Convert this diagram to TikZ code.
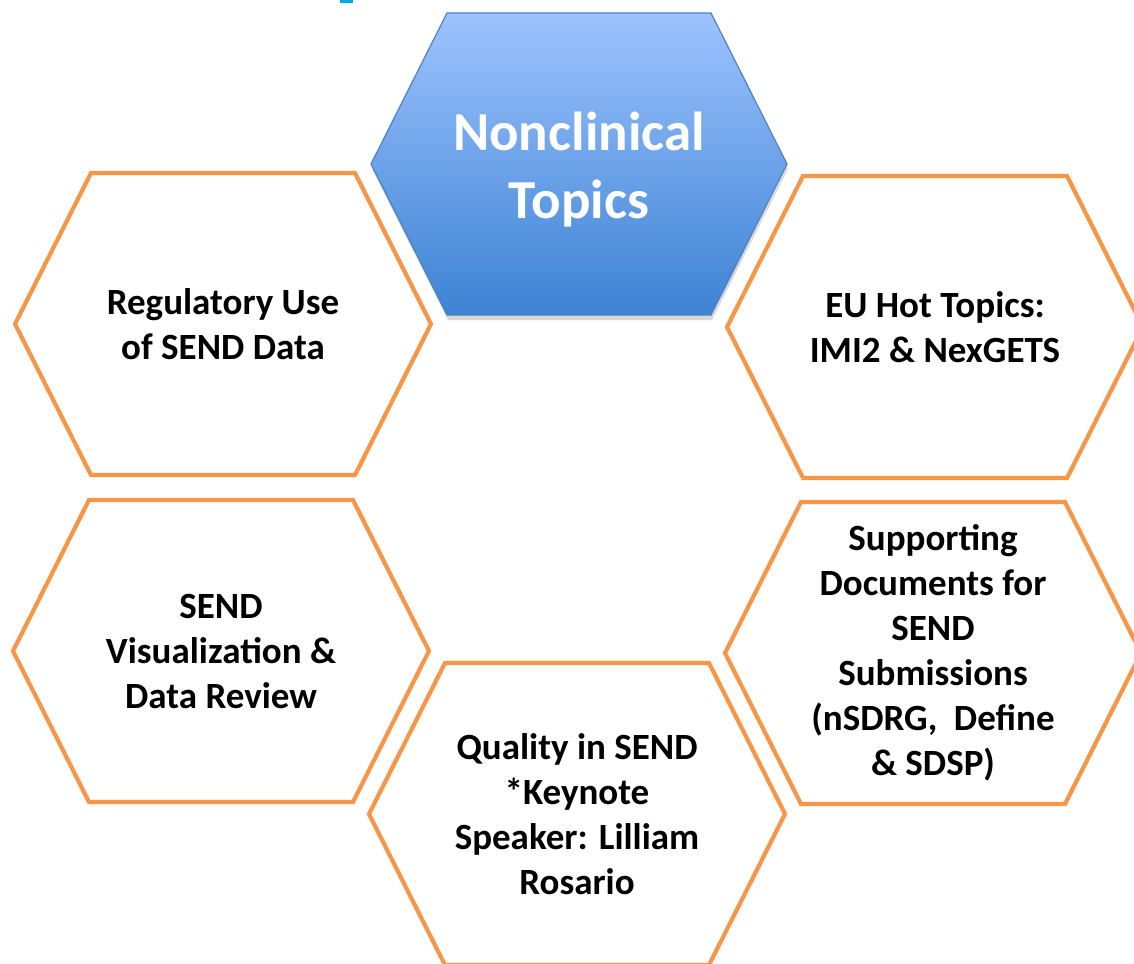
\documentclass[tikz,border=0pt]{standalone}
\usepackage{fontspec}
\setmainfont{Carlito}
\usetikzlibrary{calc,backgrounds,shadows}
\usepackage{xcolor}
\definecolor{hexline}{HTML}{F79646}
\definecolor{hextop}{HTML}{9DC3FE}
\definecolor{hexbot}{HTML}{3D83D4}
\definecolor{hexedge}{HTML}{4D81C2}
\definecolor{titlecyan}{HTML}{00A9E0}
\definecolor{ink}{HTML}{000000}
\newcommand{\hexagon}[1]{($(#1)+(-208,0)$) -- ++(76,-151) -- ++(264,0) -- ++(76,151) -- ++(-76,151) -- ++(-264,0) -- cycle}
\tikzset{
  hexbox/.style={draw=hexline,line width=2.1pt,line join=miter,fill=white},
  hubbox/.style={draw=hexedge,line width=0.6pt,top color=hextop,bottom color=hexbot,
    drop shadow={shadow xshift=0.5pt,shadow yshift=-2.5pt,opacity=0.25,fill=black!60}},
  topic/.style={align=center,text=ink,inner sep=0pt,font=\fontsize{18.5}{22.5}\selectfont\bfseries},
  hub/.style={align=center,text=white,inner sep=0pt,font=\fontsize{27.5}{34}\selectfont\bfseries},
}

\begin{document}
\begin{tikzpicture}[x=0.5pt,y=-0.5pt]
  \useasboundingbox (0,0) rectangle (1134,963);
  \clip (0,0) rectangle (1134,963);
  \fill[titlecyan] (340,0) rectangle (353,3);

  \coordinate (hubc) at (579,164);
  \node[hub] (hub) at (579,170) {Nonclinical\\Topics};
  \node[topic] (reg) at (223,324) {Regulatory Use\\of SEND Data};
  \node[topic] (eu) at (935,327) {EU Hot Topics:\\IMI2 \& NexGETS};
  \node[topic] (vis) at (221,651) {SEND\\Visualization \&\\Data Review};
  \node[topic] (docs) at (933,653) {Supporting\\Documents for\\SEND\\Submissions\\(nSDRG,\ \ Define\\\& SDSP)};
  \node[topic] (qual) at (577,814) {Quality in SEND\\*Keynote\\Speaker: Lilliam\\Rosario};

  \begin{scope}[on background layer]
    \foreach \h in {reg,eu,vis,docs,qual}
      \draw[hexbox] \hexagon{\h};
    \draw[hubbox] \hexagon{hubc};
  \end{scope}
\end{tikzpicture}
\end{document}
